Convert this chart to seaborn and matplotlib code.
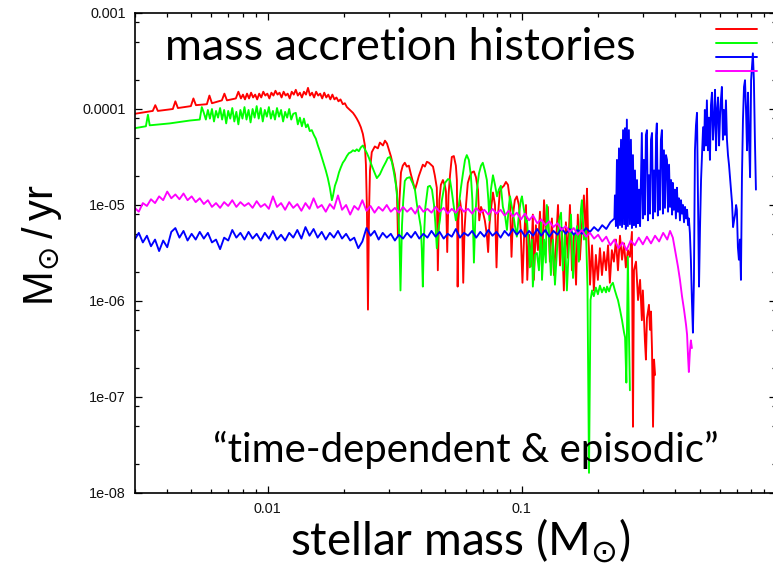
import numpy as np
import matplotlib
matplotlib.use("Agg")
import matplotlib.pyplot as plt
import seaborn as sns
from matplotlib.ticker import LogLocator, NullFormatter

# ---------------- data (log10 of stellar mass [Msun], log10 of accretion rate [Msun/yr]) -------------
red_seg1 = [(-2.524, -4.05), (-2.453, -4.02), (-2.443, -3.96), (-2.433, -4.02), (-2.374, -4.00),
            (-2.364, -3.92), (-2.354, -3.99), (-2.303, -3.97), (-2.293, -3.89), (-2.283, -3.96),
            (-2.240, -3.95), (-2.230, -3.86), (-2.220, -3.94), (-2.181, -3.91), (-2.171, -3.84),
            (-2.161, -3.91), (-2.126, -3.89), (-2.116, -3.82), (-2.106, -3.89)]
red_seg2_mass = [-2.098, -2.090, -2.082, -2.074, -2.066, -2.058, -2.050, -2.042, -2.034, -2.026,
                 -2.018, -2.010, -2.002, -1.994, -1.986, -1.978, -1.970, -1.962, -1.954, -1.946,
                 -1.938, -1.930, -1.922, -1.914, -1.906, -1.898, -1.890, -1.882, -1.874, -1.866,
                 -1.858, -1.850, -1.842, -1.834, -1.826, -1.818, -1.810, -1.802, -1.794, -1.786,
                 -1.778, -1.770, -1.762, -1.754, -1.746, -1.738, -1.730, -1.722, -1.714]
red_seg2_rate = [-3.85, -3.90, -3.84, -3.89, -3.83, -3.88, -3.85, -3.90, -3.84, -3.88,
                 -3.82, -3.86, -3.84, -3.89, -3.83, -3.86, -3.81, -3.85, -3.83, -3.88,
                 -3.82, -3.86, -3.84, -3.89, -3.82, -3.85, -3.80, -3.86, -3.83, -3.88,
                 -3.82, -3.85, -3.78, -3.86, -3.83, -3.88, -3.82, -3.86, -3.84, -3.89,
                 -3.83, -3.88, -3.85, -3.90, -3.85, -3.90, -3.88, -3.92, -3.90]
red_seg3 = [(-1.705, -3.95), (-1.697, -3.94), (-1.689, -3.98), (-1.681, -4.00), (-1.673, -4.02),
            (-1.665, -4.04), (-1.657, -4.07), (-1.650, -4.10), (-1.642, -4.14), (-1.634, -4.19),
            (-1.626, -4.26), (-1.618, -4.38), (-1.614, -4.58), (-1.610, -5.05), (-1.606, -6.09),
            (-1.602, -5.10), (-1.598, -4.64), (-1.591, -4.45), (-1.579, -4.39), (-1.567, -4.41),
            (-1.559, -4.35), (-1.547, -4.38), (-1.539, -4.33), (-1.531, -4.36), (-1.524, -4.42),
            (-1.516, -4.49), (-1.508, -4.58), (-1.500, -4.68), (-1.492, -4.86), (-1.488, -5.33),
            (-1.482, -4.95), (-1.476, -4.66), (-1.469, -4.59), (-1.461, -4.56), (-1.453, -4.60),
            (-1.445, -4.59), (-1.437, -4.68), (-1.429, -4.76), (-1.421, -4.84), (-1.413, -4.77),
            (-1.406, -4.70), (-1.398, -4.64), (-1.390, -4.58), (-1.382, -4.60), (-1.374, -4.55),
            (-1.366, -4.56), (-1.358, -4.58), (-1.350, -4.60), (-1.343, -4.69), (-1.335, -4.82),
            (-1.331, -5.68), (-1.325, -4.95), (-1.319, -4.79), (-1.311, -4.74), (-1.303, -4.80),
            (-1.299, -4.86), (-1.294, -5.49), (-1.289, -4.90), (-1.283, -4.69), (-1.276, -4.50),
            (-1.268, -4.49), (-1.260, -4.59), (-1.256, -4.74), (-1.253, -5.85), (-1.250, -5.16),
            (-1.244, -4.95), (-1.236, -5.10), (-1.231, -5.81), (-1.226, -5.26), (-1.220, -5.00),
            (-1.213, -4.77), (-1.205, -4.70), (-1.197, -4.66), (-1.189, -4.65), (-1.181, -4.71),
            (-1.173, -4.84), (-1.168, -5.16), (-1.161, -5.02), (-1.154, -5.07), (-1.146, -5.16),
            (-1.138, -5.31), (-1.133, -5.49), (-1.128, -5.21), (-1.122, -5.05), (-1.114, -4.87),
            (-1.106, -5.00), (-1.100, -5.65), (-1.094, -5.10), (-1.087, -4.86), (-1.079, -4.82),
            (-1.071, -4.80), (-1.063, -4.76), (-1.055, -4.79), (-1.047, -4.95), (-1.041, -5.54),
            (-1.035, -5.10), (-1.028, -4.95), (-1.020, -4.91), (-1.012, -5.00), (-1.005, -5.26),
            (-0.998, -5.81), (-0.992, -5.36), (-0.984, -5.00), (-0.979, -5.78), (-0.972, -5.31),
            (-0.965, -5.64), (-0.957, -5.10), (-0.953, -5.78), (-0.945, -5.21), (-0.937, -5.47),
            (-0.929, -5.07), (-0.921, -5.66), (-0.913, -4.95), (-0.906, -5.28), (-0.898, -5.02),
            (-0.890, -5.59), (-0.882, -5.14), (-0.874, -5.73), (-0.866, -5.40), (-0.858, -5.00),
            (-0.850, -5.63), (-0.843, -5.24), (-0.835, -5.89), (-0.827, -5.18), (-0.819, -5.55),
            (-0.811, -5.00), (-0.803, -5.68), (-0.795, -5.31), (-0.787, -5.83), (-0.780, -5.10),
            (-0.772, -5.57), (-0.764, -5.21), (-0.756, -4.90), (-0.748, -5.36), (-0.744, -4.83),
            (-0.740, -5.26), (-0.736, -5.47), (-0.732, -5.83), (-0.724, -5.42), (-0.717, -5.89),
            (-0.709, -5.52), (-0.701, -5.78), (-0.693, -5.45), (-0.685, -5.73), (-0.677, -5.49),
            (-0.669, -5.68), (-0.661, -5.42), (-0.654, -5.81), (-0.646, -5.47), (-0.638, -5.59),
            (-0.630, -5.36), (-0.622, -5.68), (-0.614, -5.32), (-0.606, -5.57), (-0.598, -5.40),
            (-0.591, -5.65), (-0.583, -5.47), (-0.575, -5.54), (-0.567, -5.28), (-0.563, -7.31),
            (-0.559, -5.68), (-0.551, -5.59), (-0.543, -5.99), (-0.535, -5.78), (-0.528, -6.20),
            (-0.524, -5.89), (-0.516, -6.41), (-0.512, -6.61), (-0.508, -6.18), (-0.500, -6.04),
            (-0.496, -6.30), (-0.492, -6.11), (-0.488, -6.51), (-0.484, -7.31), (-0.480, -6.61),
            (-0.476, -6.77)]

green_seg1 = [(-2.524, -4.20), (-2.480, -4.18), (-2.472, -4.06), (-2.465, -4.17), (-2.386, -4.15),
              (-2.307, -4.12), (-2.268, -4.11), (-2.260, -3.98), (-2.252, -4.04)]
green_seg2_mass = [-2.244, -2.236, -2.228, -2.220, -2.212, -2.204, -2.196, -2.188, -2.180, -2.172,
                   -2.164, -2.156, -2.148, -2.140, -2.132, -2.124, -2.116, -2.108, -2.100, -2.092,
                   -2.084, -2.076, -2.068, -2.060, -2.052, -2.044, -2.036, -2.028, -2.020, -2.012,
                   -2.004, -1.996, -1.988, -1.980, -1.972, -1.964, -1.956, -1.948, -1.940, -1.932,
                   -1.924, -1.916, -1.908, -1.900]
green_seg2_rate = [-4.11, -4.01, -4.10, -4.00, -4.13, -4.02, -4.09, -3.99, -4.11, -4.01,
                   -4.15, -4.02, -4.10, -3.99, -4.13, -4.03, -4.16, -4.01, -4.10, -3.98,
                   -4.11, -4.01, -4.14, -4.00, -4.09, -3.97, -4.10, -3.99, -4.13, -4.01,
                   -4.08, -3.98, -4.10, -4.02, -4.11, -3.99, -4.08, -4.01, -4.13, -4.03,
                   -4.09, -4.00, -4.11, -4.05]
green_seg3 = [(-1.890, -4.04), (-1.882, -4.16), (-1.874, -4.09), (-1.866, -4.18), (-1.858, -4.10),
              (-1.850, -4.19), (-1.843, -4.16), (-1.835, -4.23), (-1.827, -4.22), (-1.819, -4.27),
              (-1.811, -4.31), (-1.803, -4.38), (-1.795, -4.44), (-1.787, -4.51), (-1.780, -4.57),
              (-1.772, -4.64), (-1.764, -4.72), (-1.756, -4.82), (-1.748, -4.95), (-1.744, -4.91),
              (-1.736, -4.80), (-1.728, -4.74), (-1.720, -4.66), (-1.713, -4.61), (-1.705, -4.56),
              (-1.697, -4.53), (-1.689, -4.49), (-1.681, -4.46), (-1.673, -4.45), (-1.665, -4.43),
              (-1.657, -4.44), (-1.650, -4.42), (-1.642, -4.44), (-1.634, -4.40), (-1.626, -4.38),
              (-1.618, -4.42), (-1.610, -4.46), (-1.602, -4.51), (-1.591, -4.59), (-1.579, -4.67),
              (-1.571, -4.72), (-1.559, -4.68), (-1.547, -4.61), (-1.535, -4.55), (-1.528, -4.51),
              (-1.520, -4.50), (-1.512, -4.55), (-1.504, -4.66), (-1.496, -4.79), (-1.488, -5.00),
              (-1.482, -5.36), (-1.478, -5.89), (-1.472, -5.21), (-1.467, -4.95), (-1.461, -4.75),
              (-1.453, -4.72), (-1.441, -4.71), (-1.429, -4.78), (-1.421, -4.84), (-1.413, -5.00),
              (-1.406, -5.10), (-1.398, -5.23), (-1.394, -5.47), (-1.390, -5.85), (-1.386, -5.36),
              (-1.380, -5.02), (-1.370, -4.81), (-1.362, -4.80), (-1.354, -4.84), (-1.346, -5.00),
              (-1.341, -5.18), (-1.335, -5.45), (-1.329, -5.26), (-1.323, -5.16), (-1.315, -4.95),
              (-1.303, -4.77), (-1.291, -4.73), (-1.283, -4.74), (-1.276, -4.86), (-1.268, -5.02),
              (-1.260, -5.16), (-1.256, -5.10), (-1.248, -5.00), (-1.240, -4.82), (-1.232, -4.67),
              (-1.224, -4.53), (-1.217, -4.48), (-1.209, -4.53), (-1.201, -4.69), (-1.195, -4.95),
              (-1.189, -5.60), (-1.183, -5.10), (-1.177, -4.84), (-1.169, -4.67), (-1.161, -4.59),
              (-1.154, -4.56), (-1.146, -4.64), (-1.138, -4.74), (-1.132, -4.95), (-1.128, -5.16),
              (-1.122, -4.84), (-1.114, -4.69), (-1.106, -4.79), (-1.098, -4.91), (-1.091, -4.84),
              (-1.083, -4.80), (-1.075, -5.02), (-1.067, -5.10), (-1.059, -5.26), (-1.051, -5.00),
              (-1.047, -4.91), (-1.039, -5.03), (-1.035, -5.08), (-1.028, -5.21), (-1.020, -5.33),
              (-1.012, -5.10), (-1.004, -4.95), (-1.000, -4.91), (-0.992, -5.05), (-0.984, -5.18),
              (-0.980, -5.16), (-0.972, -5.47), (-0.969, -5.65), (-0.961, -5.36), (-0.957, -5.85),
              (-0.949, -5.52), (-0.941, -5.50), (-0.933, -5.68), (-0.925, -5.18), (-0.921, -5.78),
              (-0.913, -5.36), (-0.906, -5.60), (-0.902, -5.00), (-0.894, -5.28), (-0.886, -5.73),
              (-0.878, -5.36), (-0.870, -5.83), (-0.862, -5.47), (-0.854, -5.16), (-0.846, -5.08),
              (-0.839, -5.68), (-0.831, -5.31), (-0.823, -5.89), (-0.815, -5.42), (-0.807, -5.10),
              (-0.799, -5.76), (-0.791, -5.36), (-0.783, -5.22), (-0.776, -5.59), (-0.768, -5.05),
              (-0.764, -4.95), (-0.756, -5.36), (-0.748, -5.26), (-0.742, -5.85), (-0.736, -7.79),
              (-0.730, -5.99), (-0.724, -5.89), (-0.717, -5.95), (-0.709, -5.86), (-0.701, -5.93),
              (-0.693, -5.84), (-0.685, -5.91), (-0.677, -5.86), (-0.669, -5.91), (-0.665, -5.85),
              (-0.657, -5.90), (-0.650, -5.84), (-0.642, -5.81), (-0.634, -5.89), (-0.626, -5.96),
              (-0.622, -5.99), (-0.614, -6.09), (-0.606, -6.20), (-0.598, -6.33), (-0.594, -6.38),
              (-0.589, -6.85), (-0.585, -5.99), (-0.583, -5.54), (-0.579, -6.30), (-0.575, -6.93)]

# shared sampling of the slowly varying early part (log10 mass)
early_mass = [-2.524, -2.508, -2.492, -2.476, -2.460, -2.444, -2.428, -2.412, -2.396, -2.380,
              -2.364, -2.348, -2.332, -2.316, -2.300, -2.284, -2.268, -2.252, -2.236, -2.220,
              -2.204, -2.188, -2.172, -2.156, -2.140, -2.124, -2.108, -2.092, -2.076, -2.060,
              -2.044, -2.028, -2.012, -1.996, -1.980, -1.964, -1.948, -1.932, -1.916, -1.900,
              -1.884, -1.868, -1.852, -1.836, -1.820, -1.804, -1.788, -1.772, -1.756, -1.740,
              -1.724, -1.708, -1.692, -1.676, -1.660, -1.644, -1.628, -1.612, -1.596, -1.580,
              -1.564, -1.548, -1.532, -1.516, -1.500, -1.484, -1.468, -1.452, -1.436, -1.420,
              -1.404, -1.388, -1.372, -1.356, -1.340, -1.324, -1.308, -1.292, -1.276, -1.260,
              -1.244, -1.228, -1.212, -1.196, -1.180, -1.164, -1.148, -1.132, -1.116, -1.100,
              -1.084, -1.068, -1.052, -1.036, -1.020, -1.004, -0.988, -0.972, -0.956, -0.940,
              -0.924, -0.908, -0.892, -0.876, -0.860, -0.844, -0.828, -0.812, -0.796, -0.780,
              -0.764, -0.748, -0.732, -0.716, -0.700, -0.684, -0.668, -0.652, -0.636, -0.620,
              -0.604, -0.588, -0.572, -0.556, -0.540, -0.524, -0.508, -0.492, -0.476, -0.460,
              -0.444, -0.428]

magenta_early_rate = [-5.03, -5.07, -4.98, -5.01, -4.94, -4.98, -4.91, -4.95, -4.86, -4.93,
                      -4.89, -4.94, -4.88, -4.95, -4.91, -4.97, -4.93, -4.99, -4.95, -5.02,
                      -4.98, -5.03, -4.97, -5.01, -4.95, -5.02, -4.97, -5.01, -4.98, -5.03,
                      -4.96, -5.02, -4.99, -5.04, -4.91, -5.02, -4.98, -5.05, -4.97, -5.03,
                      -4.99, -5.06, -4.98, -5.04, -4.93, -5.03, -5.00, -5.07, -4.99, -5.04,
                      -4.90, -5.05, -5.00, -5.10, -5.01, -5.05, -4.95, -5.06, -5.01, -5.08,
                      -5.02, -5.06, -5.00, -5.07, -5.03, -5.08, -5.02, -5.07, -5.03, -5.09,
                      -5.01, -5.07, -5.04, -5.08, -5.02, -5.07, -5.03, -5.09, -5.04, -5.08,
                      -5.02, -5.07, -5.04, -5.09, -5.03, -5.08, -5.05, -5.10, -5.04, -5.09,
                      -5.05, -5.11, -5.06, -5.12, -5.08, -5.15, -5.09, -5.16, -5.11, -5.19,
                      -5.15, -5.21, -5.17, -5.23, -5.19, -5.26, -5.22, -5.28, -5.24, -5.31,
                      -5.26, -5.33, -5.29, -5.35, -5.31, -5.38, -5.33, -5.42, -5.36, -5.45,
                      -5.39, -5.47, -5.37, -5.42, -5.34, -5.41, -5.33, -5.40, -5.32, -5.38,
                      -5.29, -5.36]
magenta_drop = [(-0.417, -5.27), (-0.406, -5.34), (-0.394, -5.52), (-0.386, -5.64), (-0.378, -5.78),
                (-0.370, -5.95), (-0.362, -6.09), (-0.354, -6.25), (-0.350, -6.35), (-0.346, -6.59),
                (-0.343, -6.74), (-0.339, -6.53), (-0.335, -6.41), (-0.331, -6.49)]

blue_early_rate = [-5.36, -5.29, -5.39, -5.32, -5.43, -5.36, -5.48, -5.37, -5.44, -5.28,
                   -5.24, -5.34, -5.27, -5.37, -5.30, -5.36, -5.28, -5.35, -5.29, -5.39,
                   -5.36, -5.46, -5.34, -5.37, -5.26, -5.34, -5.29, -5.36, -5.28, -5.35,
                   -5.30, -5.37, -5.29, -5.35, -5.27, -5.36, -5.31, -5.37, -5.29, -5.34,
                   -5.26, -5.35, -5.23, -5.32, -5.25, -5.34, -5.28, -5.36, -5.29, -5.34,
                   -5.27, -5.35, -5.30, -5.37, -5.34, -5.45, -5.38, -5.24, -5.32, -5.27,
                   -5.36, -5.29, -5.34, -5.30, -5.37, -5.31, -5.35, -5.29, -5.34, -5.28,
                   -5.35, -5.30, -5.34, -5.27, -5.33, -5.28, -5.35, -5.30, -5.33, -5.25,
                   -5.34, -5.29, -5.32, -5.27, -5.34, -5.28, -5.33, -5.26, -5.32, -5.28,
                   -5.34, -5.27, -5.32, -5.25, -5.31, -5.26, -5.33, -5.27, -5.32, -5.25,
                   -5.32, -5.26, -5.33, -5.27, -5.31, -5.24, -5.30, -5.25, -5.31, -5.26,
                   -5.30, -5.24, -5.28, -5.23, -5.27, -5.21, -5.25, -5.18, -5.14]
blue_late = [(-0.634, -4.90), (-0.630, -5.22), (-0.626, -4.53), (-0.622, -5.24), (-0.618, -4.41),
             (-0.614, -5.21), (-0.610, -4.32), (-0.606, -5.23), (-0.602, -4.22), (-0.598, -5.20),
             (-0.594, -4.20), (-0.591, -5.25), (-0.587, -4.11), (-0.583, -5.22), (-0.579, -4.22),
             (-0.575, -5.20), (-0.571, -4.32), (-0.567, -5.24), (-0.563, -4.48), (-0.559, -5.21),
             (-0.555, -4.64), (-0.551, -5.23), (-0.547, -4.74), (-0.543, -5.19), (-0.539, -4.84),
             (-0.535, -5.22), (-0.531, -4.64), (-0.528, -4.25), (-0.524, -5.14), (-0.520, -4.53),
             (-0.516, -5.10), (-0.512, -4.27), (-0.508, -4.22), (-0.504, -5.16), (-0.500, -4.69),
             (-0.496, -5.09), (-0.492, -4.32), (-0.488, -4.25), (-0.484, -5.14), (-0.480, -4.64),
             (-0.476, -5.07), (-0.472, -4.27), (-0.469, -4.15), (-0.465, -5.11), (-0.461, -4.64),
             (-0.457, -5.05), (-0.453, -4.32), (-0.449, -4.22), (-0.445, -5.09), (-0.441, -4.43),
             (-0.437, -5.03), (-0.433, -4.48), (-0.429, -4.53), (-0.425, -5.07), (-0.421, -4.58),
             (-0.417, -5.02), (-0.413, -4.74), (-0.409, -5.10), (-0.406, -4.77), (-0.402, -5.05),
             (-0.398, -4.84), (-0.394, -5.14), (-0.390, -4.82), (-0.386, -5.07), (-0.382, -4.93),
             (-0.378, -5.16), (-0.374, -4.95), (-0.370, -5.09), (-0.366, -5.00), (-0.362, -5.18),
             (-0.358, -5.02), (-0.354, -5.14), (-0.350, -5.05), (-0.346, -5.21), (-0.343, -5.14),
             (-0.339, -5.29), (-0.335, -5.57), (-0.331, -5.99), (-0.327, -6.33), (-0.323, -5.78),
             (-0.319, -4.43), (-0.315, -4.17), (-0.311, -4.04), (-0.307, -4.95), (-0.303, -5.85),
             (-0.299, -5.23), (-0.295, -4.74), (-0.291, -4.46), (-0.287, -4.19), (-0.283, -4.43),
             (-0.280, -4.01), (-0.276, -4.38), (-0.272, -3.91), (-0.268, -4.43), (-0.264, -4.09),
             (-0.260, -4.53), (-0.256, -3.96), (-0.252, -3.83), (-0.248, -4.32), (-0.244, -4.11),
             (-0.240, -3.80), (-0.236, -4.43), (-0.232, -4.01), (-0.228, -3.88), (-0.224, -4.38),
             (-0.220, -4.06), (-0.217, -3.91), (-0.213, -3.77), (-0.209, -4.32), (-0.205, -4.01),
             (-0.201, -4.27), (-0.197, -3.91), (-0.193, -4.32), (-0.189, -4.48), (-0.185, -4.58),
             (-0.181, -4.71), (-0.177, -4.84), (-0.173, -4.98), (-0.169, -5.23), (-0.165, -5.16),
             (-0.161, -5.10), (-0.157, -5.00), (-0.154, -5.05), (-0.150, -5.44), (-0.146, -5.57),
             (-0.142, -5.36), (-0.138, -5.78), (-0.134, -4.71), (-0.130, -4.11), (-0.126, -3.77),
             (-0.122, -3.70), (-0.118, -4.01), (-0.114, -4.43), (-0.110, -3.83), (-0.106, -4.32),
             (-0.102, -4.71), (-0.098, -3.70), (-0.094, -3.54), (-0.091, -3.42), (-0.087, -3.70),
             (-0.083, -4.32), (-0.079, -4.84)]

series_colors = {"red": "#ff0000", "green": "#00ff00", "blue": "#0000ff", "magenta": "#ff00ff"}
x_tick_values = [0.01, 0.1]
x_tick_labels = ["0.01", "0.1"]
y_tick_values = [1e-3, 1e-4, 1e-5, 1e-6, 1e-7, 1e-8]
y_tick_labels = ["0.001", "0.0001", "1e-05", "1e-06", "1e-07", "1e-08"]

# ---------------- assemble series ----------------
def unzip(pairs):
    return [p[0] for p in pairs], [p[1] for p in pairs]

m1, r1 = unzip(red_seg1)
m3, r3 = unzip(red_seg3)
red_lm = m1 + list(red_seg2_mass) + m3
red_lr = r1 + list(red_seg2_rate) + r3

g1m, g1r = unzip(green_seg1)
g3m, g3r = unzip(green_seg3)
green_lm = g1m + list(green_seg2_mass) + g3m
green_lr = g1r + list(green_seg2_rate) + g3r

mdm, mdr = unzip(magenta_drop)
mag_pairs = list(zip(early_mass, magenta_early_rate))
magenta_lm = [p[0] for p in mag_pairs] + mdm
magenta_lr = [p[1] for p in mag_pairs] + mdr

blm, blr = unzip(blue_late)
blue_pairs = list(zip(early_mass, blue_early_rate))
blue_lm = [p[0] for p in blue_pairs] + blm
blue_lr = [p[1] for p in blue_pairs] + blr

series = [("red", red_lm, red_lr), ("green", green_lm, green_lr),
          ("blue", blue_lm, blue_lr), ("magenta", magenta_lm, magenta_lr)]

# ---------------- plot ----------------
sns.set_theme(style="ticks")
plt.rcParams["font.family"] = ["Liberation Sans", "DejaVu Sans"]
plt.rcParams["axes.linewidth"] = 1.2

fig = plt.figure(figsize=(7.73, 5.72), dpi=100)
fig.patch.set_facecolor("white")
ax = fig.add_axes([135 / 773, 1 - 493 / 572, 641 / 773, 480 / 572])
ax.set_facecolor("white")

lines = []
for name, lm, lr in series:
    sns.lineplot(x=10 ** np.array(lm), y=10 ** np.array(lr), color=series_colors[name],
                 linewidth=1.35, estimator=None, sort=False, ax=ax)
    lines.append(ax.get_lines()[-1])

ax.set_xscale("log")
ax.set_yscale("log")
ax.set_xlim(0.003, 1.0)
ax.set_ylim(1e-8, 1e-3)

ax.set_xticks(x_tick_values, x_tick_labels)
ax.set_yticks(y_tick_values, y_tick_labels)
ax.xaxis.set_minor_locator(LogLocator(base=10, subs=np.arange(2, 10)))
ax.xaxis.set_minor_formatter(NullFormatter())
ax.yaxis.set_minor_locator(LogLocator(base=10, subs=(2, 5, 8)))
ax.yaxis.set_minor_formatter(NullFormatter())
ax.tick_params(which="both", direction="in", top=True, right=True, color="black", width=0.9)
ax.tick_params(which="major", length=5, labelsize=10.4, pad=6.5, labelcolor="#111111")
ax.tick_params(which="minor", length=3)
for s in ax.spines.values():
    s.set_color("black")
    s.set_linewidth(1.2)
ax.set_xlabel("")
ax.set_ylabel("")

leg = ax.legend(lines, ["", "", "", ""], loc="upper right",
                bbox_to_anchor=(757 / 773, 1 - 25 / 572), bbox_transform=fig.transFigure,
                frameon=False, fontsize=8, handlelength=3.7, handletextpad=0.0,
                labelspacing=0.355, borderpad=0.0, borderaxespad=0.0)
for h in leg.get_lines():
    h.set_linewidth(1.4)

big = ["Lato", "DejaVu Sans"]
fig.text(165 / 773, 1 - 60 / 572, "mass accretion histories", fontsize=32.3, family=big,
         ha="left", va="baseline", color="black")
fig.text(213 / 773, 1 - 462 / 572, "\u201ctime-dependent & episodic\u201d", fontsize=28.8,
         family=big, ha="left", va="baseline", color="black")
fig.text(460 / 773, 1 - 555 / 572, r"stellar mass (M$_{\odot}$)", fontsize=33, family=big,
         ha="center", va="baseline", color="black")
fig.text(42 / 773, 1 - 245 / 572, r"M$_{\odot}\,$/$\,$yr", fontsize=30, rotation=90,
         family=["Liberation Sans", "DejaVu Sans"], ha="center", va="center", color="black")

fig.savefig("out.png", dpi=100, facecolor="white")
